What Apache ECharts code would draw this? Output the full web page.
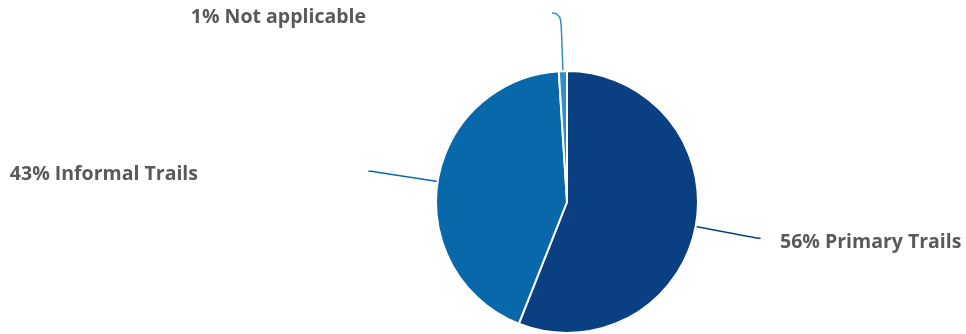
<!DOCTYPE html>
<html>
<head>
<meta charset="utf-8">
<script src="https://cdn.jsdelivr.net/npm/echarts@6/dist/echarts.min.js"></script>
<style>html,body{margin:0;padding:0;background:#fff}#c{width:966px;height:334px}</style>
</head>
<body>
<div id="c"></div>
<script>
const categories = ['Primary Trails', 'Informal Trails', 'Not applicable'];
const values = [56, 43, 1];
const colors = ['#0a4081', '#0868aa', '#2f8fc7'];
// label placement (text anchor) for each slice
const labelPlaces = [
  {x: 780, y: 242, align: 'left'},
  {x: 198, y: 174, align: 'right'},
  {x: 366, y: 17, align: 'right'}
];
const lineLengths = [[62, 4], [66, 4], [58, 9]];

const chart = echarts.init(document.getElementById('c'), null, {renderer: 'canvas'});
chart.setOption({
  animation: false,
  series: [{
    type: 'pie',
    center: [567, 202],
    radius: 131,
    startAngle: 90,
    clockwise: true,
    data: categories.map((n, i) => ({
      name: n, value: values[i],
      itemStyle: {color: colors[i]},
      labelLine: {length: lineLengths[i][0], length2: lineLengths[i][1], lineStyle: {color: colors[i]}}
    })),
    itemStyle: {borderColor: '#fff', borderWidth: 2},
    label: {
      show: true,
      formatter: p => p.value + '% ' + p.name,
      fontFamily: 'Open Sans',
      fontWeight: 'bold',
      fontSize: 19.5,
      color: '#58595b'
    },
    labelLine: {show: true, smooth: 0.6, lineStyle: {width: 1.5}},
    labelLayout: function (params) {
      const p = labelPlaces[params.dataIndex];
      return {x: p.x, y: p.y, align: p.align, verticalAlign: 'middle', labelLinePoints: params.labelLinePoints};
    }
  }]
});
</script>
</body>
</html>
